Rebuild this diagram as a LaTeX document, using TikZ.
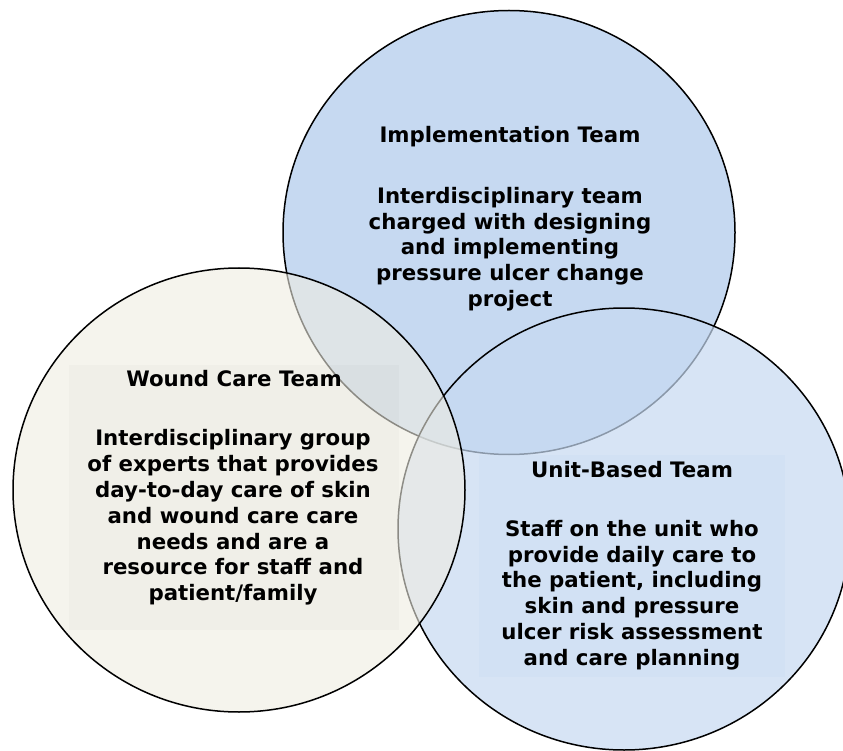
\documentclass[tikz,border=0pt]{standalone}
\usepackage{fontspec}
\setmainfont{DejaVu Sans}
\definecolor{topblue}{HTML}{C6D9F1}
\definecolor{tan}{HTML}{EEECE1}
\tikzset{
  ring/.style={draw=black, line width=1.5pt},
  txt/.style={font=\bfseries\fontsize{21.3}{25.8}\selectfont, align=center, inner sep=0pt, text=black},
}
\begin{document}
\begin{tikzpicture}[x=1pt,y=-1pt]
\useasboundingbox (0,0) rectangle (843,751);
\clip (0,0) rectangle (843,751);
% circles
\draw[ring, fill=topblue] (509,232.5) ellipse [x radius=226, y radius=222];
\draw[ring, fill=topblue, fill opacity=0.7] (624,529) ellipse [x radius=226, y radius=221];
\draw[ring, fill=tan, fill opacity=0.6] (239,490) ellipse [x radius=226, y radius=222];
% text boxes
\fill[black, opacity=0.02] (69,365) rectangle (399,630);
\fill[topblue, opacity=0.3] (479,455) rectangle (785,677);
% texts
\node[txt, anchor=base] (impl) at (510,143) {Implementation Team};
\node[txt, anchor=north] (implbody) at (510,187) {Interdisciplinary team\\charged with designing\\and implementing\\pressure ulcer change\\project};
\node[txt, anchor=base] (wound) at (234,386) {Wound Care Team};
\node[txt, anchor=north] (woundbody) at (233,429.5) {Interdisciplinary group\\of experts that provides\\day-to-day care of skin\\and wound care care\\needs and are a\\resource for staff and\\patient/family};
\node[txt, anchor=base] (unit) at (632,477) {Unit-Based Team};
\node[txt, anchor=north] (unitbody) at (632,520) {Staff on the unit who\\provide daily care to\\the patient, including\\skin and pressure\\ulcer risk assessment\\and care planning};
\end{tikzpicture}
\end{document}
